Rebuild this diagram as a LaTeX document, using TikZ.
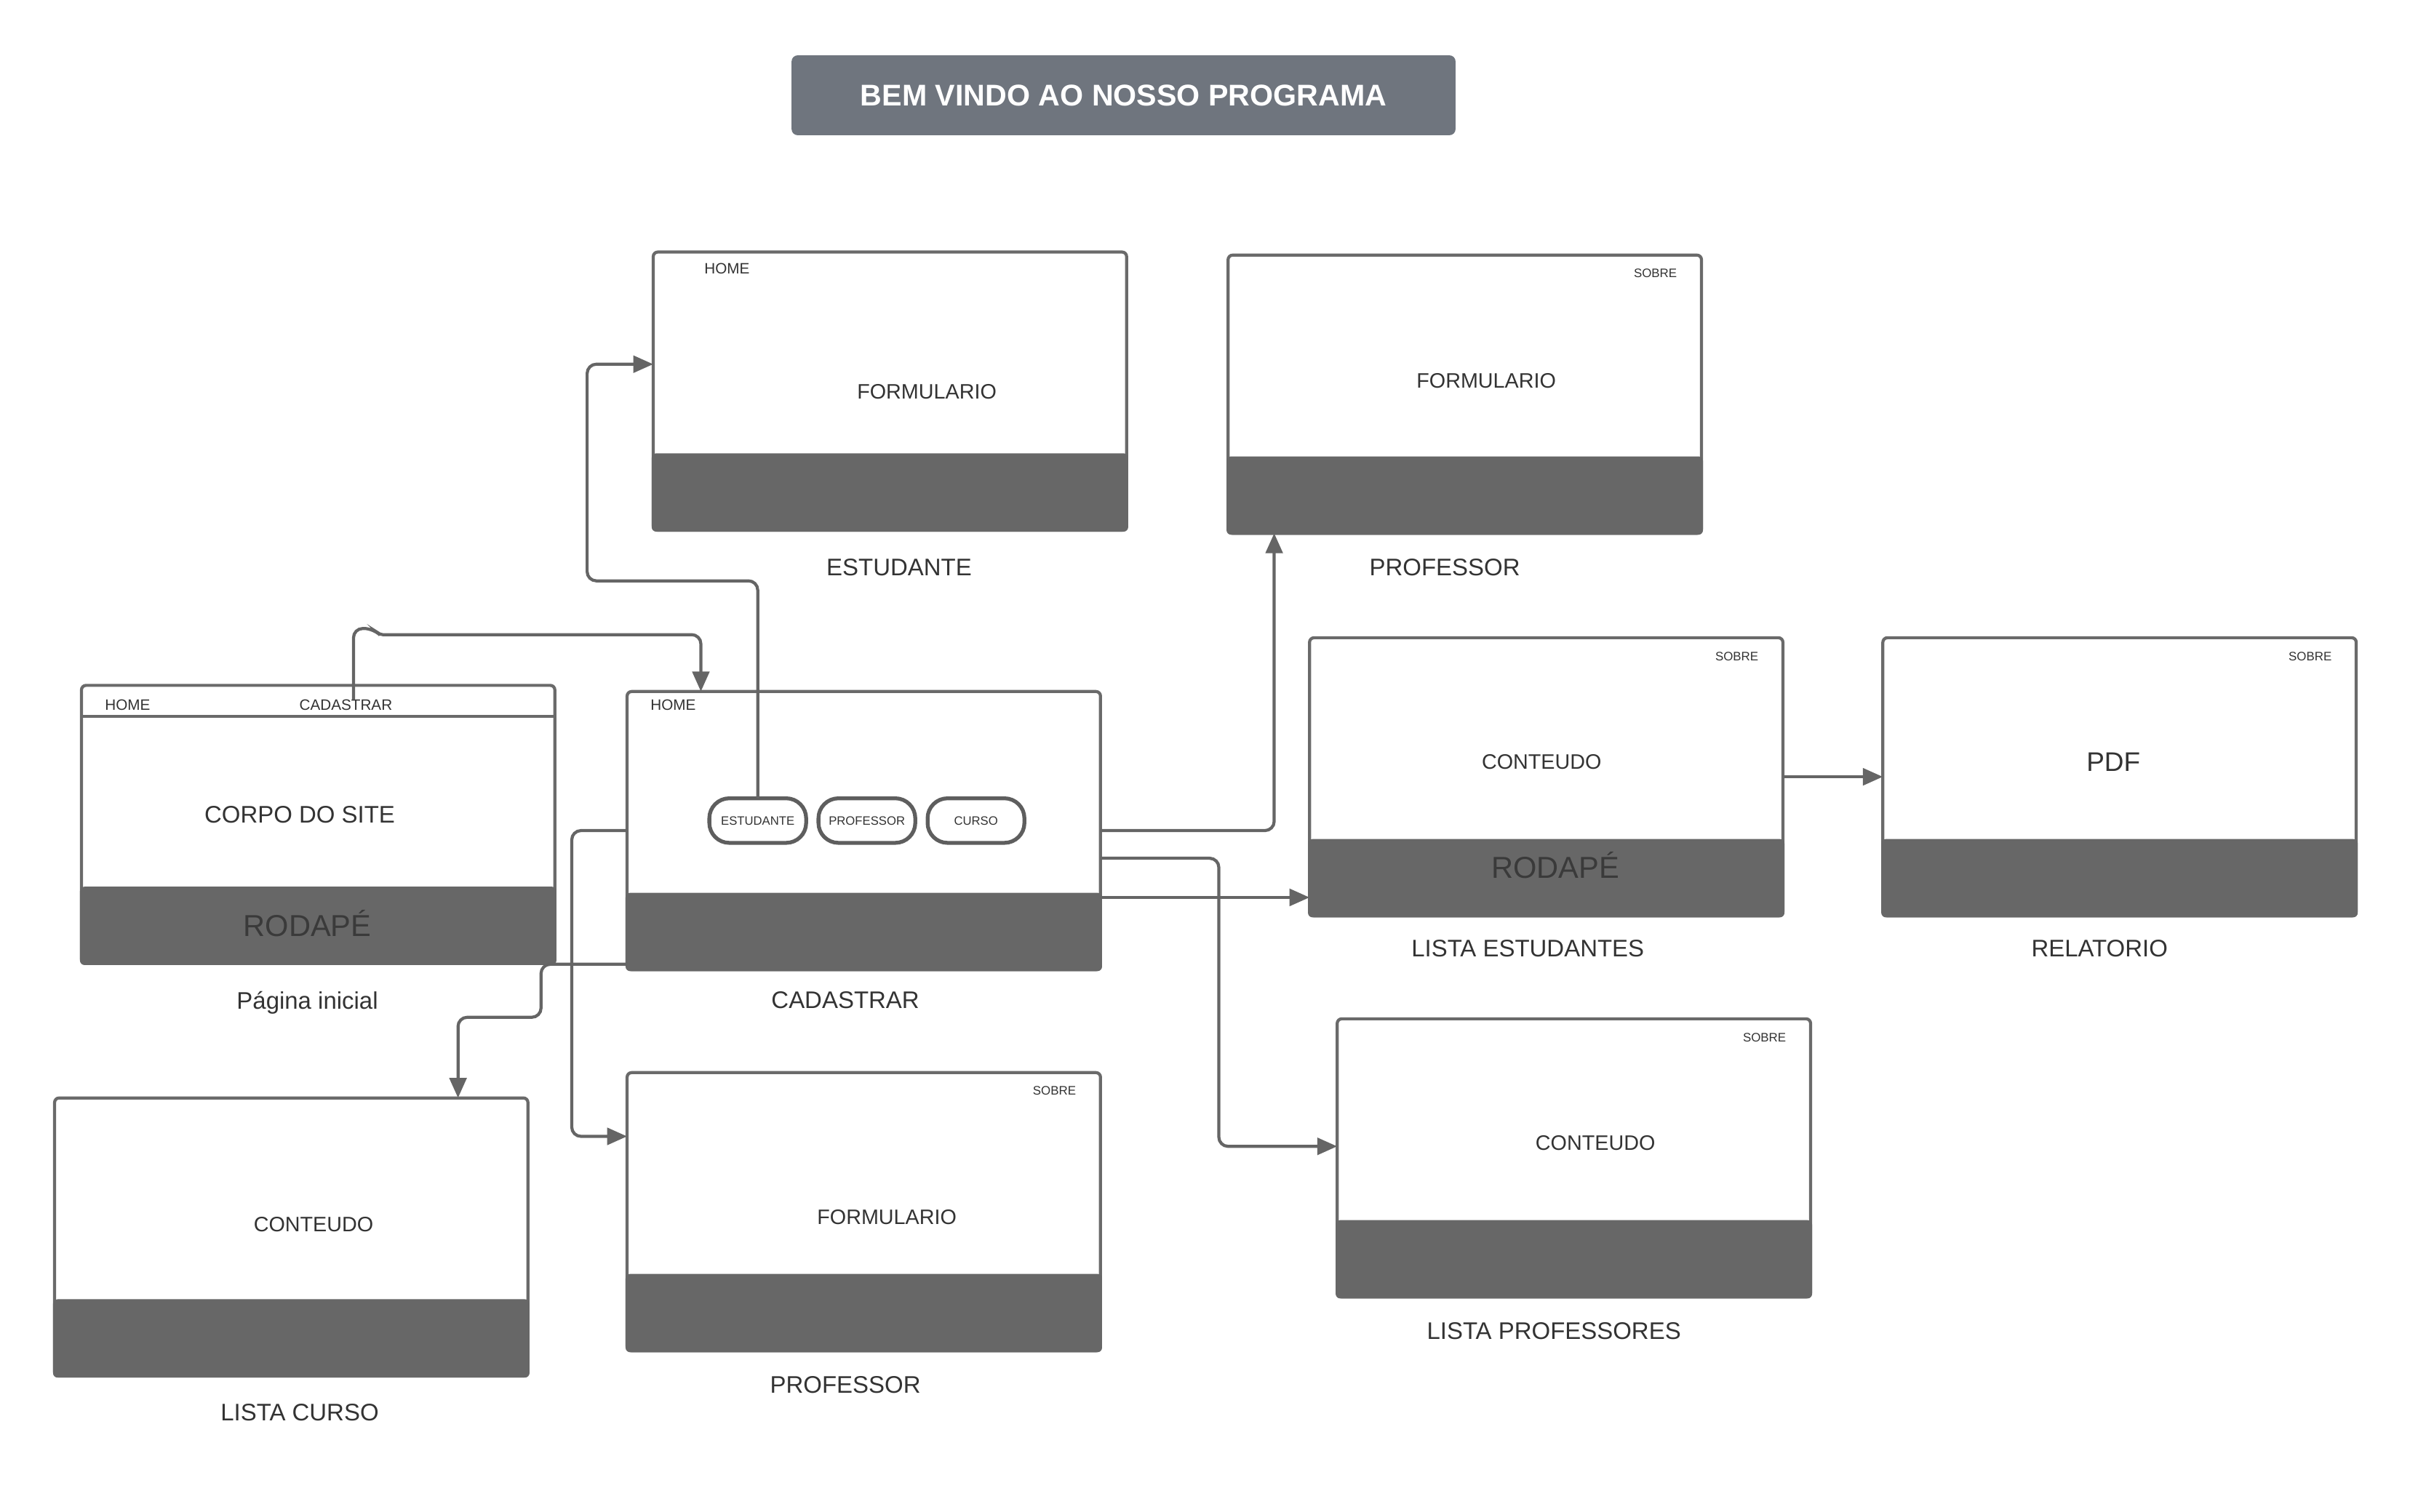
\documentclass[tikz,border=0pt]{standalone}
\usepackage{fontspec}
\setmainfont{Liberation Sans}
\usetikzlibrary{arrows.meta,calc}
\definecolor{linec}{HTML}{656565}
\definecolor{boxc}{HTML}{6A6A6A}
\definecolor{footc}{HTML}{676767}
\definecolor{txtc}{HTML}{333333}
\definecolor{rodc}{HTML}{3A3A3A}
\definecolor{titlec}{HTML}{6F757E}
\definecolor{pillc}{HTML}{5E5E5E}
\newcommand\pgfoot[1]{\fill[foot] ([xshift=-1pt,yshift=50pt]#1.south west) rectangle ([xshift=1pt,yshift=-1pt]#1.south east);}
\begin{document}
\begin{tikzpicture}[x=1pt,y=-1pt,
 pagebox/.style={draw=boxc,line width=2pt,fill=white,rounded corners=3pt,minimum width=308pt,minimum height=181pt,inner sep=0pt,outer sep=0pt},
 conn/.style={draw=linec,line width=2pt,rounded corners=6pt,-{Triangle[length=13pt,width=11pt]}},
 bodytxt/.style={text=txtc,font=\fontsize{13.6}{16}\selectfont,inner sep=0pt},
 labeltxt/.style={text=txtc,font=\fontsize{15.6}{18}\selectfont,inner sep=0pt},
 smalltxt/.style={text=txtc,font=\fontsize{9.8}{12}\selectfont,inner sep=0pt},
 sobretxt/.style={text=txtc,font=\fontsize{8}{10}\selectfont,inner sep=0pt},
 rodtxt/.style={text=rodc,font=\fontsize{19.7}{22}\selectfont,inner sep=0pt},
 pill/.style={draw=pillc,line width=2.5pt,fill=white,rounded corners=13pt,minimum width=63pt,minimum height=29pt,inner sep=0pt,outer sep=0pt,text=txtc,font=\fontsize{7.9}{9}\selectfont},
 foot/.style={fill=footc,rounded corners=3pt},
]
\useasboundingbox (0,0) rectangle (1568,983.5);

% title
\node[fill=titlec,rounded corners=4pt,minimum width=432pt,minimum height=52pt,inner sep=0pt,text=white,font=\bfseries\fontsize{19.5}{22}\selectfont] (title) at (731,62) {BEM VINDO AO NOSSO PROGRAMA};

% page boxes
\node[pagebox] (est) at (579,254.5) {};
\node[pagebox] (profT) at (953,256.5) {};
\node[pagebox] (home) at (207,536.5) {};
\node[pagebox] (cad) at (562,540.5) {};
\node[pagebox] (listE) at (1006,505.5) {};
\node[pagebox] (rel) at (1379,505.5) {};
\node[pagebox] (listP) at (1024,753.5) {};
\node[pagebox] (profB) at (562,788.5) {};
\node[pagebox] (listC) at (189.5,805) {};

\pgfoot{est}\pgfoot{profT}\pgfoot{home}\pgfoot{cad}\pgfoot{listE}
\pgfoot{rel}\pgfoot{listP}\pgfoot{profB}\pgfoot{listC}

% header line of home page
\draw[draw=boxc,line width=2pt] ($(home.north west)+(0,20)$) -- ($(home.north east)+(0,20)$);

% texts: estudante form
\node[smalltxt] (estH) at (473,175) {HOME};
\node[bodytxt] (estF) at (603,255) {FORMULARIO};
\node[labeltxt] (estL) at (585,369) {ESTUDANTE};
% professor form (top)
\node[sobretxt] (pTS) at (1077,178) {SOBRE};
\node[bodytxt] (pTF) at (967,248) {FORMULARIO};
\node[labeltxt] (pTL) at (940,369) {PROFESSOR};
% home page
\node[smalltxt] (hH) at (83,459) {HOME};
\node[smalltxt] (hcad) at (225,459) {CADASTRAR};
\node[labeltxt] (hC) at (195,530) {CORPO DO SITE};
\node[rodtxt] (hR) at (200,601) {RODAPÉ};
\node[labeltxt,anchor=base] (hL) at (200,656.5) {Página inicial};
% cadastrar
\node[smalltxt] (cH) at (438,459) {HOME};
\node[labeltxt] (cL) at (550,651) {CADASTRAR};
\node[pill] (pE) at (493,534) {ESTUDANTE};
\node[pill] (pP) at (564,534) {PROFESSOR};
\node[pill] (pC) at (635,534) {CURSO};
% lista estudantes
\node[sobretxt] (lES) at (1130,427) {SOBRE};
\node[bodytxt] (lEC) at (1003,496) {CONTEUDO};
\node[rodtxt] (lER) at (1012,563) {RODAPÉ};
\node[labeltxt] (lEL) at (994,617) {LISTA ESTUDANTES};
% relatorio
\node[sobretxt] (rS) at (1503,427) {SOBRE};
\node[text=txtc,font=\fontsize{17.5}{20}\selectfont,inner sep=0pt] (rP) at (1375,496) {PDF};
\node[labeltxt] (rL) at (1366,617) {RELATORIO};
% lista professores
\node[sobretxt] (lPS) at (1148,675) {SOBRE};
\node[bodytxt] (lPC) at (1038,744) {CONTEUDO};
\node[labeltxt] (lPL) at (1011,866) {LISTA PROFESSORES};
% professor (bottom)
\node[sobretxt] (pBS) at (686,710) {SOBRE};
\node[bodytxt] (pBF) at (577,792) {FORMULARIO};
\node[labeltxt] (pBL) at (550,901) {PROFESSOR};
% lista curso
\node[bodytxt] (lCC) at (204,797) {CONTEUDO};
\node[labeltxt] (lCL) at (195,919) {LISTA CURSO};

% connectors
\draw[conn] ([xshift=5pt]hcad.north) |- (243,409) [rounded corners=2pt] -- (247,413) [rounded corners=6pt] -| ([xshift=-106pt]cad.north);
\draw[conn] (pE.north) |- (382,378) |- ([yshift=17.5pt]est.west);
\draw[conn] (cad.east) -| ([xshift=-124pt]profT.south);
\draw[conn] ([yshift=-43.5pt]cad.east) -- ([yshift=-78.5pt]listE.west);
\draw[conn] ([yshift=-18pt]cad.east) -| (793,700) |- ([yshift=7.5pt]listP.west);
\draw[conn] (cad.west) -| (372,700) |- ([yshift=49pt]profB.west);
\draw[conn] ([yshift=-87pt]cad.west) -| (352,662) -| ([xshift=108.5pt]listC.north);
\draw[conn] (listE.east) -- (rel.west);
\end{tikzpicture}
\end{document}
